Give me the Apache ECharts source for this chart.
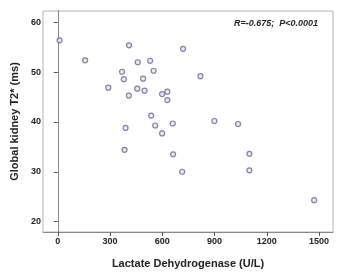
<!DOCTYPE html>
<html>
<head>
<meta charset="utf-8">
<script src="https://cdn.jsdelivr.net/npm/echarts@6/dist/echarts.min.js"></script>
<style>
    html, body { margin: 0; padding: 0; background: #fff; }
    #chart { width: 355px; height: 274px; }
</style>
</head>
<body>
<div id="chart"></div>
<script>
// LDH (U/L) vs global kidney T2* (ms)
const ldh = [
    10, 157, 409, 459, 530, 369, 379, 490, 550, 290,
    408, 456, 498, 599, 629, 629, 536, 559, 660, 389,
    599, 383, 662, 714, 719, 819, 899, 1035, 1100, 1100,
    1472
];
const t2star = [
    56.4, 52.4, 55.4, 52.0, 52.3, 50.1, 48.6, 48.7, 50.3, 46.9,
    45.3, 46.7, 46.3, 45.6, 46.1, 44.4, 41.3, 39.3, 39.7, 38.8,
    37.7, 34.4, 33.5, 30.0, 54.7, 49.2, 40.2, 39.6, 33.6, 30.3,
    24.3
];
const xTicks = [0, 300, 600, 900, 1200, 1500];
const yTicks = [20, 30, 40, 50, 60];
const statsText = 'R=-0.675;  P<0.0001';

const points = ldh.map((x, i) => [x, t2star[i]]);

const chart = echarts.init(document.getElementById('chart'));

const labelStyle = {
    fontFamily: 'Liberation Sans, Arial, sans-serif',
    fontSize: 9,
    fontWeight: 'bold',
    color: '#222',
    formatter: (v) => String(v)
};

chart.setOption({
    animation: false,
    backgroundColor: '#fff',
    grid: {
        left: 43, top: 11, right: 22, bottom: 41,
        show: true,
        borderColor: '#b4b4b4',
        borderWidth: 1
    },
    xAxis: {
        type: 'value',
        min: -85,
        max: 1580,
        name: 'Lactate Dehydrogenase (U/L)',
        nameLocation: 'middle',
        nameGap: 26,
        nameTextStyle: {
            fontFamily: 'Liberation Sans, Arial, sans-serif',
            fontSize: 11,
            fontWeight: 'bold',
            color: '#222'
        },
        axisLine: { lineStyle: { color: '#888', width: 1 } },
        axisTick: { show: true, length: 4, customValues: xTicks, lineStyle: { color: '#555' } },
        axisLabel: Object.assign({ customValues: xTicks, margin: 5 }, labelStyle),
        splitLine: { show: false }
    },
    yAxis: {
        type: 'value',
        min: 17.9,
        max: 62.3,
        name: 'Global kidney T2* (ms)',
        nameLocation: 'middle',
        nameGap: 22,
        nameTextStyle: {
            fontFamily: 'Liberation Sans, Arial, sans-serif',
            fontSize: 11,
            fontWeight: 'bold',
            color: '#222'
        },
        axisLine: { show: true, lineStyle: { color: '#888', width: 1 } },
        axisTick: { show: true, length: 4, customValues: yTicks, lineStyle: { color: '#555' } },
        axisLabel: Object.assign({ customValues: yTicks, margin: 2 }, labelStyle),
        splitLine: { show: false }
    },
    graphic: [{
        type: 'text',
        right: 37,
        top: 19,
        style: {
            text: statsText,
            font: 'italic bold 9px "Liberation Sans", Arial, sans-serif',
            fill: '#222'
        }
    }],
    series: [{
        type: 'scatter',
        data: points,
        symbol: 'circle',
        symbolSize: 5,
        itemStyle: {
            color: '#e6e2ef',
            borderColor: '#6a628e',
            borderWidth: 1.2
        }
    }]
});
</script>
</body>
</html>
